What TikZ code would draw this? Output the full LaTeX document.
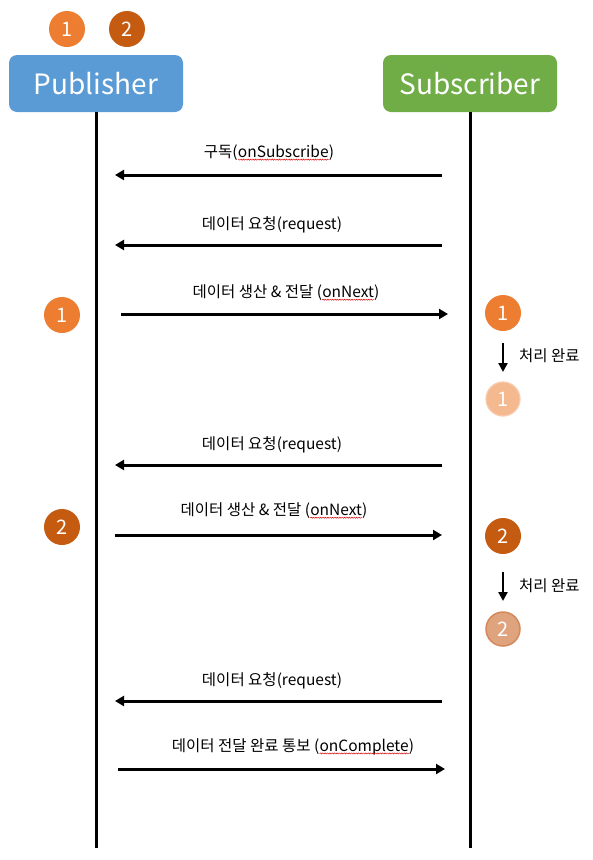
\documentclass[tikz,border=0pt]{standalone}
\usepackage{fontspec}
\setmainfont{Noto Sans CJK KR}
\usetikzlibrary{arrows.meta,decorations.pathmorphing}
\definecolor{pubblue}{HTML}{5B9BD5}
\definecolor{subgreen}{HTML}{70AD47}
\definecolor{oneorange}{HTML}{ED7D31}
\definecolor{twoorange}{HTML}{C55A11}
\definecolor{onefade}{HTML}{F4B98F}
\definecolor{onefadeb}{HTML}{F8CBAD}
\definecolor{twofade}{HTML}{DFA47E}
\definecolor{twofadeb}{HTML}{D3895C}
\newcommand{\wavyul}[1]{\tikz[baseline=(w.base)]{\node[inner sep=0pt,outer sep=0pt,anchor=base](w){#1};\draw[red!85!black,line width=0.45pt,decorate,decoration={snake,amplitude=0.6pt,segment length=2.4pt}] ([yshift=-1.8pt]w.base west) -- ([yshift=-1.8pt]w.base east);}}
\tikzset{
  hdr/.style={rounded corners=8pt, minimum width=174pt, minimum height=57pt, text=white, font=\fontsize{28}{32}\selectfont, inner sep=0pt},
  num/.style={circle, minimum size=36pt, inner sep=0pt, text=white, font=\fontsize{20}{22}\selectfont},
  life/.style={line width=3pt},
  msg/.style={line width=3pt, -{Triangle[length=9pt,width=10pt]}},
  lbl/.style={font=\fontsize{15.5}{18}\selectfont, inner sep=0pt},
  done/.style={line width=2.2pt, -{Triangle[length=9pt,width=9pt]}}
}
\begin{document}
\begin{tikzpicture}[x=1pt,y=-1pt]
\useasboundingbox (0,0) rectangle (593,860);
% legend circles
\node[num, fill=oneorange] (leg1) at (67,29) {1};
\node[num, fill=twoorange] (leg2) at (127,29) {2};
% headers
\node[hdr, fill=pubblue] (pub) at (96,83.5) {Publisher};
\node[hdr, fill=subgreen] (sub) at (470,83.5) {Subscriber};
\coordinate (pubbot) at (96,848);
\coordinate (subbot) at (470,848);
\draw[life] (pub) -- (pubbot);
\draw[life] (sub) -- (subbot);
% message 1
\coordinate (m1s) at (442,175); \coordinate (m1e) at (115,175);
\draw[msg] (m1s) -- (m1e);
\node[lbl] (l1) at (269,153) {구독(\wavyul{onSubscribe})};
% message 2
\coordinate (m2s) at (442,245); \coordinate (m2e) at (115,245);
\draw[msg] (m2s) -- (m2e);
\node[lbl] (l2) at (272,225) {데이터 요청(request)};
% message 3
\coordinate (m3s) at (121,314); \coordinate (m3e) at (448,314);
\draw[msg] (m3s) -- (m3e);
\node[lbl] (l3) at (286,293) {데이터 생산 \& 전달 (\wavyul{onNext})};
% message 4
\coordinate (m4s) at (442,465); \coordinate (m4e) at (115,465);
\draw[msg] (m4s) -- (m4e);
\node[lbl] (l4) at (272,445) {데이터 요청(request)};
% message 5
\coordinate (m5s) at (115,535); \coordinate (m5e) at (442,535);
\draw[msg] (m5s) -- (m5e);
\node[lbl] (l5) at (274,511) {데이터 생산 \& 전달 (\wavyul{onNext})};
% message 6
\coordinate (m6s) at (442,701); \coordinate (m6e) at (115,701);
\draw[msg] (m6s) -- (m6e);
\node[lbl] (l6) at (272,681) {데이터 요청(request)};
% message 7
\coordinate (m7s) at (118,769); \coordinate (m7e) at (445,769);
\draw[msg] (m7s) -- (m7e);
\node[lbl] (l7) at (293,747) {데이터 전달 완료 통보 (\wavyul{onComplete})};
% data item 1
\node[num, fill=oneorange] (p1) at (62,315) {1};
\node[num, fill=oneorange] (s1) at (503,313) {1};
\node[num, fill=onefade, draw=onefadeb, line width=1.2pt, minimum size=34pt] (f1) at (503,399) {1};
\draw[done] (s1) ++(0,30) coordinate (d1a) -- ++(0,29) coordinate (d1b);
\node[lbl, anchor=west] (c1) at (519,356) {처리 완료};
% data item 2
\node[num, fill=twoorange] (p2) at (62,527) {2};
\node[num, fill=twoorange] (s2) at (503,536) {2};
\node[num, fill=twofade, draw=twofadeb, line width=1.5pt, minimum size=34pt] (f2) at (503,629) {2};
\draw[done] (s2) ++(0,36) coordinate (d2a) -- ++(0,29) coordinate (d2b);
\node[lbl, anchor=west] (c2) at (519,586) {처리 완료};
\end{tikzpicture}
\end{document}
